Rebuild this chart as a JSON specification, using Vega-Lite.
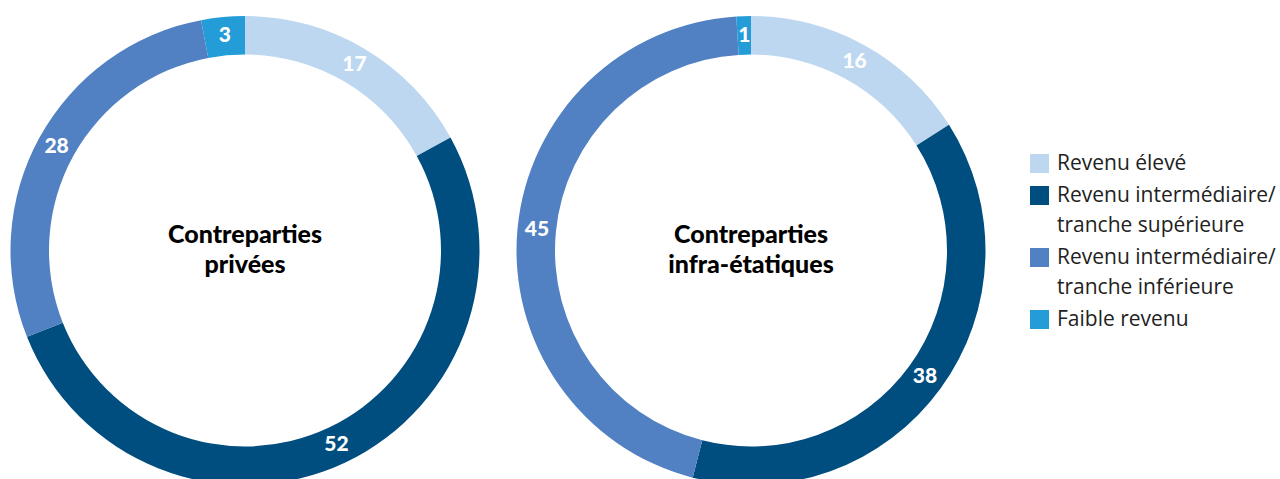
{
  "$schema": "https://vega.github.io/schema/vega-lite/v6.json",
  "padding": 0,
  "background": "white",
  "spacing": 16,
  "datasets": {
    "income": [
      {"group": "privees", "category": "Revenu élevé", "rank": 1, "value": 17},
      {"group": "privees", "category": "Revenu intermédiaire/tranche supérieure", "rank": 2, "value": 52},
      {"group": "privees", "category": "Revenu intermédiaire/tranche inférieure", "rank": 3, "value": 28},
      {"group": "privees", "category": "Faible revenu", "rank": 4, "value": 3},
      {"group": "infra", "category": "Revenu élevé", "rank": 1, "value": 16},
      {"group": "infra", "category": "Revenu intermédiaire/tranche supérieure", "rank": 2, "value": 38},
      {"group": "infra", "category": "Revenu intermédiaire/tranche inférieure", "rank": 3, "value": 45},
      {"group": "infra", "category": "Faible revenu", "rank": 4, "value": 1}
    ],
    "titles": [
      {"group": "privees", "title": ["Contreparties", "privées"]},
      {"group": "infra", "title": ["Contreparties", "infra-étatiques"]}
    ]
  },
  "hconcat": [
    {
      "width": 490,
      "height": 501,
      "layer": [
        {
          "data": {"name": "income"},
          "transform": [{"filter": "datum.group == 'privees'"}],
          "mark": {"type": "arc", "innerRadius": 196, "outerRadius": 234.5},
          "encoding": {
            "theta": {"field": "value", "type": "quantitative", "stack": true},
            "color": {
              "field": "category", "type": "nominal",
              "scale": {
                "domain": ["Revenu élevé", "Revenu intermédiaire/tranche supérieure", "Revenu intermédiaire/tranche inférieure", "Faible revenu"],
                "range": ["#BDD7F0", "#004D7F", "#5181C2", "#239CD8"]
              },
              "legend": {
                "orient": "none",
                "legendX": 1029,
                "legendY": 153,
                "title": null,
                "labelExpr": "indexof(datum.label, '/') > 0 ? [slice(datum.label, 0, indexof(datum.label, '/') + 1), slice(datum.label, indexof(datum.label, '/') + 1)] : datum.label"
              }
            },
            "order": {"field": "rank", "type": "quantitative"}
          }
        },
        {
          "data": {"name": "income"},
          "transform": [{"filter": "datum.group == 'privees'"}],
          "mark": {"type": "text", "radius": 215, "color": "white", "font": "Lato", "fontWeight": 900, "fontSize": 21},
          "encoding": {
            "theta": {"field": "value", "type": "quantitative", "stack": true},
            "detail": {"field": "category", "type": "nominal"},
            "order": {"field": "rank", "type": "quantitative"},
            "text": {"field": "value", "type": "quantitative"}
          }
        },
        {
          "data": {"name": "titles"},
          "transform": [{"filter": "datum.group == 'privees'"}],
          "mark": {"type": "text", "font": "Lato", "fontWeight": 900, "fontSize": 25, "lineHeight": 30, "dy": -16, "color": "black"},
          "encoding": {"text": {"field": "title"}}
        }
      ]
    },
    {
      "width": 490,
      "height": 501,
      "layer": [
        {
          "data": {"name": "income"},
          "transform": [{"filter": "datum.group == 'infra'"}],
          "mark": {"type": "arc", "innerRadius": 196, "outerRadius": 234.5},
          "encoding": {
            "theta": {"field": "value", "type": "quantitative", "stack": true},
            "color": {"field": "category", "type": "nominal"},
            "order": {"field": "rank", "type": "quantitative"}
          }
        },
        {
          "data": {"name": "income"},
          "transform": [{"filter": "datum.group == 'infra'"}],
          "mark": {"type": "text", "radius": 215, "color": "white", "font": "Lato", "fontWeight": 900, "fontSize": 21},
          "encoding": {
            "theta": {"field": "value", "type": "quantitative", "stack": true},
            "detail": {"field": "category", "type": "nominal"},
            "order": {"field": "rank", "type": "quantitative"},
            "text": {"field": "value", "type": "quantitative"}
          }
        },
        {
          "data": {"name": "titles"},
          "transform": [{"filter": "datum.group == 'infra'"}],
          "mark": {"type": "text", "font": "Lato", "fontWeight": 900, "fontSize": 25, "lineHeight": 30, "dy": -16, "color": "black"},
          "encoding": {"text": {"field": "title"}}
        }
      ]
    }
  ],
  "resolve": {"scale": {"color": "shared"}},
  "config": {
    "view": {"stroke": null},
    "style": {"guide-label": {"lineHeight": 30}},
    "legend": {
      "symbolType": "square",
      "symbolSize": 361,
      "symbolStrokeWidth": 0,
      "symbolOpacity": 1,
      "labelFont": "Open Sans",
      "labelFontSize": 21,
      "labelColor": "#222222",
      "labelLimit": 400,
      "labelOffset": 7,
      "rowPadding": 10,
      "padding": 0
    }
  }
}
